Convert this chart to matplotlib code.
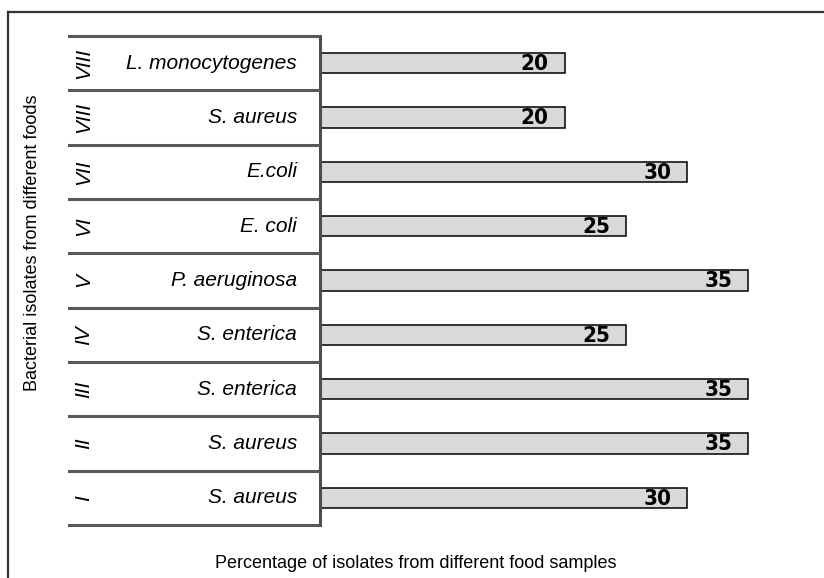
import matplotlib.pyplot as plt
from matplotlib.lines import Line2D
from matplotlib.transforms import blended_transform_factory
from matplotlib import font_manager

# data, bottom row first
romans = ["I", "II", "III", "IV", "V", "VI", "VII", "VIII", "VIII"]
species = ["S. aureus", "S. aureus", "S. enterica", "S. enterica", "P. aeruginosa",
           "E. coli", "E.coli", "S. aureus", "L. monocytogenes"]
values = [30, 35, 35, 25, 35, 25, 30, 20, 20]

# look for a condensed bold face for the value labels
num_font = None
for f in font_manager.fontManager.ttflist:
    if f.weight in ("bold", 700) and f.stretch in ("condensed", "semi-condensed", 87.5, 75) \
            and f.style == "normal" and "Sans" in f.name:
        num_font = f.fname
        break
print("condensed font:", num_font)

W, H = 824, 578
fig = plt.figure(figsize=(W / 100, H / 100), dpi=100)
ax = fig.add_axes([320 / W, 53 / H, 465 / W, 489 / H])

pos = list(range(len(values)))
ax.barh(pos, values, height=0.38, color="#d9d9d9", edgecolor="black", linewidth=1.1)
ax.set_xlim(0, 38)
ax.set_ylim(-0.5, len(values) - 0.5)

# value labels inside the bar end
for y, v in zip(pos, values):
    if num_font:
        fp = font_manager.FontProperties(fname=num_font, size=16)
    else:
        fp = font_manager.FontProperties(family="Liberation Sans", weight="bold", size=15)
    ax.annotate(str(v), (v, y), xytext=(-11.5, -0.5), textcoords="offset points",
                ha="right", va="center", fontproperties=fp)

for s in ["top", "right", "bottom"]:
    ax.spines[s].set_visible(False)
ax.spines["left"].set_color("#4d4d4d")
ax.spines["left"].set_linewidth(2.2)
ax.set_xticks([])
ax.set_yticks([])

# left category table: separators, roman numerals, species names
tr = blended_transform_factory(fig.transFigure, ax.transData)
for k in range(len(values) + 1):
    fig.add_artist(Line2D([69 / W, 319 / W], [k - 0.5, k - 0.5], transform=tr,
                          color="#595959", linewidth=2.2, clip_on=False))
for y, r, s in zip(pos, romans, species):
    ax.text(84 / W, y, r, transform=tr, rotation=90, ha="center", va="center",
            fontsize=15, style="italic", family="Liberation Sans")
    ax.text(297 / W, y, s, transform=tr, ha="right", va="center",
            fontsize=15, style="italic", family="Liberation Sans")

fig.text(33 / W, 1 - 243 / H, "Bacterial isolates from different foods", rotation=90,
         ha="center", va="center", fontsize=13, family="Liberation Sans")
fig.text(416 / W, 1 - 563 / H, "Percentage of isolates from different food samples",
         ha="center", va="center", fontsize=13, family="Liberation Sans")

# outer frame (only left and top edges visible)
fig.add_artist(Line2D([8 / W, 8 / W], [0, 1 - 12 / H], transform=fig.transFigure,
                      color="#333333", linewidth=1.6))
fig.add_artist(Line2D([8 / W, 1], [1 - 12 / H, 1 - 12 / H], transform=fig.transFigure,
                      color="#333333", linewidth=1.6))

fig.savefig("out.png", dpi=100)
